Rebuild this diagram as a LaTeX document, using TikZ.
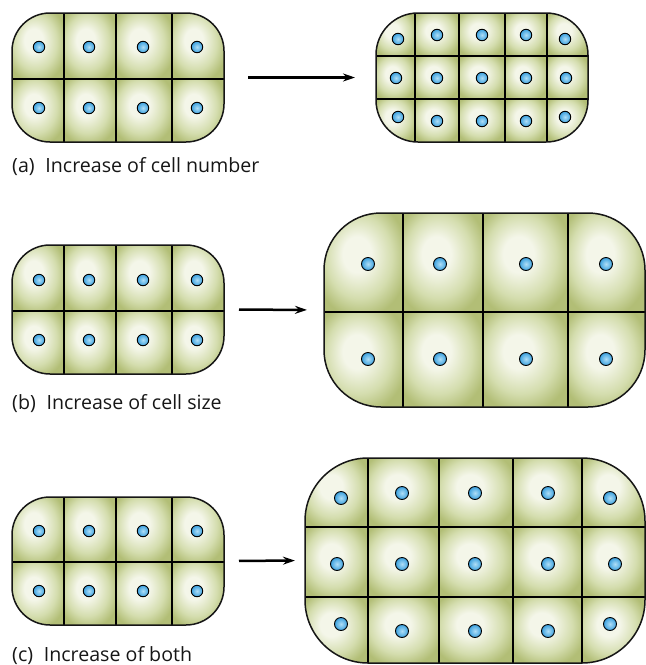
\documentclass[tikz,border=0pt]{standalone}
\usepackage{fontspec}
\setmainfont{Open Sans}
\usetikzlibrary{arrows.meta}

\definecolor{cellout}{RGB}{178,190,118}
\definecolor{cellmid}{RGB}{212,221,174}
\definecolor{cellhi}{RGB}{244,246,233}
\definecolor{nucout}{RGB}{58,160,222}
\definecolor{nuchi}{RGB}{175,222,246}
\definecolor{inkline}{RGB}{22,22,22}

% soft glow in each cell, brightest a little up and to the left
\pgfdeclareradialshading{cellglow}{\pgfpoint{-5bp}{5bp}}{%
  color(0bp)=(cellhi); color(9bp)=(cellhi); color(21bp)=(cellmid);
  color(30bp)=(cellout); color(50bp)=(cellout)}

\tikzset{
  tissue/.style={draw=inkline, line width=1.5pt, inner sep=0pt, outer sep=0pt,
    anchor=north west, rectangle},
  wall/.style={draw=black, line width=1.8pt},
  cell/.style={shading=cellglow},
  nucleus/.style={circle, inner sep=0pt, minimum size=#1, draw=black,
    line width=0.9pt, inner color=nuchi, outer color=nucout},
  nucleus/.default=11.5pt,
  growth/.style={draw=black, line width=2.5pt, -{Stealth[length=12pt,width=8pt]}},
  caption/.style={anchor=base west, inner sep=0pt,
    font=\fontsize{19.6}{22}\selectfont, text=inkline},
}

% #1 name, #2 left, #3 top, #4 right, #5 bottom, #6 corner radius,
% #7 column spans x1/x2, #8 row spans y1/y2
\newcommand\celltissue[8]{%
  \begin{scope}
    \clip[rounded corners=#6pt] (#2,#3) rectangle (#4,#5);
    \foreach \xa/\xb in {#7}{%
      \foreach \ya/\yb in {#8}{%
        \shade[cell] (\xa,\ya) rectangle (\xb,\yb);}}
    \foreach \xa/\xb [count=\k] in {#7}{%
      \ifnum\k>1 \draw[wall] (\xa,#3) -- (\xa,#5);\fi}
    \foreach \ya/\yb [count=\k] in {#8}{%
      \ifnum\k>1 \draw[wall] (#2,\ya) -- (#4,\ya);\fi}
  \end{scope}
  \node[tissue, rounded corners=#6pt, minimum width={(#4-#2)*1pt},
    minimum height={(#5-#3)*1pt}] (#1) at (#2,#3) {};
}

\begin{document}
\begin{tikzpicture}[x=1pt, y=-1pt]
\useasboundingbox (0,0) rectangle (646,665);

% ---------- (a) more cells ----------
\celltissue{a1}{12}{13}{224}{142}{38}
  {12/64, 64/116, 116/172, 172/224}{13/79, 79/142}
\foreach \x/\y [count=\k] in {39/47, 89/47, 143/47, 197/47,
                              39/108, 89/108, 143/108, 197/108}
  \node[nucleus] (a1-n\k) at (\x,\y) {};

\celltissue{a2}{376}{13}{588}{142}{42}
  {376/415, 415/459, 459/505, 505/547, 547/588}{13/56, 56/99, 99/142}
\foreach \x/\y [count=\k] in {398/39, 437/35, 482/35, 526/35, 565/39,
                              396/78, 437/78, 482/78, 526/78, 566/78,
                              398/117, 437/121, 482/121, 526/121, 565/117}
  \node[nucleus] (a2-n\k) at (\x,\y) {};

\draw[growth, shorten <=24pt, shorten >=21pt] (a1.east) -- (a2.west);
\node[caption] (capA) at (12,172) {(a)\hspace{0.55em}Increase of cell number};

% ---------- (b) bigger cells ----------
\celltissue{b1}{12}{245}{224}{374}{38}
  {12/64, 64/116, 116/172, 172/224}{245/311, 311/374}
\foreach \x/\y [count=\k] in {39/280, 89/280, 143/280, 197/280,
                              39/340, 89/340, 143/340, 197/340}
  \node[nucleus] (b1-n\k) at (\x,\y) {};

\celltissue{b2}{324}{213}{645}{407}{57}
  {324/403, 403/483, 483/568, 568/645}{213/312, 312/407}
\foreach \x/\y [count=\k] in {368/264, 440/264, 526/264, 606/264,
                              368/359, 440/359, 526/359, 606/359}
  \node[nucleus=13pt] (b2-n\k) at (\x,\y) {};

\draw[growth, shorten <=15pt, shorten >=17pt] (b1.east) -- (b2.west);
\node[caption] (capB) at (12,409) {(b)\hspace{0.55em}Increase of cell size};

% ---------- (c) more and bigger cells ----------
\celltissue{c1}{12}{497}{224}{625}{38}
  {12/64, 64/116, 116/172, 172/224}{497/562, 562/625}
\foreach \x/\y [count=\k] in {39/531, 89/531, 143/531, 197/531,
                              39/591, 89/591, 143/591, 197/591}
  \node[nucleus] (c1-n\k) at (\x,\y) {};

\celltissue{c2}{305}{458}{645}{663}{63}
  {305/368, 368/439, 439/513, 513/582, 582/645}{458/527, 527/597, 597/663}
\foreach \x/\y [count=\k] in {341/498, 402/493, 475/493, 548/493, 610/498,
                              337/564, 402/564, 475/564, 548/564, 615/564,
                              341/624, 402/631, 475/631, 548/631, 610/624}
  \node[nucleus=13pt] (c2-n\k) at (\x,\y) {};

\draw[growth, shorten <=15pt, shorten >=10pt] (c1.east) -- (c2.west);
\node[caption] (capC) at (12,661) {(c)\hspace{0.55em}Increase of both};

\end{tikzpicture}
\end{document}
